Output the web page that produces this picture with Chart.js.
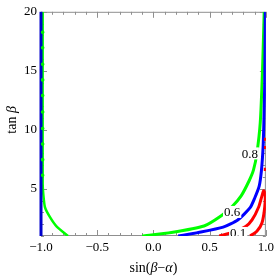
<!DOCTYPE html>
<html>
<head>
<meta charset="utf-8">
<script src="https://cdn.jsdelivr.net/npm/chart.js@4.4.1/dist/chart.umd.min.js"></script>
<style>
  html, body { margin: 0; padding: 0; background: #fff; }
</style>
</head>
<body>
<canvas id="chartKontur" width="278" height="278"></canvas>
<script>
// tick labels
const xTicks = [-1, -0.5, 0, 0.5, 1];
const yTicks = [5, 10, 15, 20];

// blue contour (0.6)
const blueLeftX = [-1, -1];
const blueLeftY = [1, 20];
const blueRightX = [0.22, 0.4, 0.62, 0.75, 0.86, 0.9, 0.94, 0.96, 0.975, 0.982, 0.99, 0.995];
const blueRightY = [1, 1.3, 1.75, 2.36, 3.4, 4.2, 5.2, 6.5, 8.5, 10.6, 14, 20];

// green contour (0.8)
const greenLeftX = [-0.985, -0.985, -0.98, -0.965, -0.92, -0.86, -0.76];
const greenLeftY = [20, 5.4, 4.6, 3.45, 2.6, 1.8, 1];
const greenDotX = [-0.985, -0.985, -0.985, -0.985, -0.985, -0.985, -0.985, -0.985, -0.985, -0.985];
const greenDotY = [18.27, 16.95, 15.55, 14.23, 12.91, 11.51, 10.11, 8.79, 7.47, 6.15];
const greenRightX = [-0.1, 0.16, 0.45, 0.6, 0.7, 0.78, 0.85, 0.89, 0.92, 0.95, 0.97, 0.985];
const greenRightY = [1, 1.3, 1.85, 2.7, 3.5, 4.4, 5.66, 6.6, 8, 10.6, 15, 20];

// red contour (0.1)
const redX = [0.585, 0.7, 0.82, 0.877, 0.936, 0.965, 0.98, 0.993, 0.99, 0.965, 0.92, 0.86];
const redY = [1, 1.3, 1.8, 2.36, 3.46, 4.4, 4.84, 4.6, 3.46, 2.1, 1.4, 1];
const redBitsX = [0.997, 0.997, 0.995];
const redBitsY = [9.2, 8.5, 6.65];

// contour labels
const labelText = ["0.8", "0.6", "0.1"];
const labelX = [0.857, 0.7, 0.754];
const labelY = [8, 3.04, 1.26];

const serif = '"Liberation Serif", "Times New Roman", serif';

function pts(xs, ys) {
    return xs.map((x, i) => ({ x: x, y: ys[i] }));
}

function fmt(v) {
    return (v < 0 ? "\u2212" : "") + Math.abs(v).toFixed(1);
}

function drawParts(ctx, parts, x, y) {
    // teks campuran tegak/miring, center di (x, y)
    let total = 0;
    parts.forEach(p => {
        ctx.font = (p[1] ? "italic " : "") + "14px " + serif;
        total += ctx.measureText(p[0]).width;
    });
    let cx = x - total / 2;
    ctx.textAlign = "left";
    ctx.textBaseline = "middle";
    parts.forEach(p => {
        ctx.font = (p[1] ? "italic " : "") + "14px " + serif;
        ctx.fillText(p[0], cx, y);
        cx += ctx.measureText(p[0]).width;
    });
}

const framePlugin = {
    id: "frame",
    beforeDatasetsDraw(chart) {
        const { ctx, chartArea: a, scales: { x, y } } = chart;
        ctx.save();

        // bingkai
        ctx.strokeStyle = "#8f8f8f";
        ctx.lineWidth = 1;
        ctx.strokeRect(a.left + 0.5, a.top + 0.5, a.right - a.left - 1, a.bottom - a.top - 1);

        // tick ke dalam
        ctx.beginPath();
        for (let k = -10; k <= 10; k++) {
            const v = k / 10;
            const len = xTicks.some(t => Math.abs(t - v) < 1e-9) ? 6 : 3;
            const px = Math.round(x.getPixelForValue(v)) + 0.5;
            ctx.moveTo(px, a.bottom);
            ctx.lineTo(px, a.bottom - len);
            ctx.moveTo(px, a.top);
            ctx.lineTo(px, a.top + len);
        }
        for (let v = 1; v <= 20; v++) {
            const len = yTicks.includes(v) ? 6 : 3;
            const py = Math.round(y.getPixelForValue(v)) + 0.5;
            ctx.moveTo(a.left, py);
            ctx.lineTo(a.left + len, py);
            ctx.moveTo(a.right, py);
            ctx.lineTo(a.right - len, py);
        }
        ctx.stroke();

        // judul sumbu
        ctx.fillStyle = "#000";
        drawParts(ctx, [["sin(", false], ["\u03b2", true], ["\u2212", false], ["\u03b1", true], [")", false]],
            (a.left + a.right) / 2, 268);
        ctx.save();
        ctx.translate(12, (a.top + a.bottom) / 2 - 4);
        ctx.rotate(-Math.PI / 2);
        drawParts(ctx, [["tan ", false], ["\u03b2", true]], 0, 0);
        ctx.restore();

        ctx.restore();
    },
    afterDatasetsDraw(chart) {
        const { ctx, chartArea: a, scales: { x, y } } = chart;
        // label kontur dengan latar putih
        ctx.save();
        ctx.beginPath();
        ctx.rect(a.left, a.top, a.right - a.left, a.bottom - a.top);
        ctx.clip();
        ctx.font = "13px " + serif;
        ctx.textAlign = "center";
        ctx.textBaseline = "middle";
        labelText.forEach((t, i) => {
            const px = x.getPixelForValue(labelX[i]);
            const py = y.getPixelForValue(labelY[i]);
            const w = ctx.measureText(t).width;
            ctx.fillStyle = "#fff";
            ctx.fillRect(px - w / 2 - 1, py - 6, w + 2, 12);
            ctx.fillStyle = "#000";
            ctx.fillText(t, px, py + 1);
        });
        ctx.restore();
    }
};

function line(xs, ys, color, width, order) {
    return {
        data: pts(xs, ys),
        showLine: true,
        borderColor: color,
        backgroundColor: color,
        borderWidth: width,
        pointRadius: 0,
        tension: 0.2,
        fill: false,
        order: order
    };
}

const chartCanvas = document.getElementById("chartKontur");

const blueLeft = line(blueLeftX, blueLeftY, "#0000cc", 3, 5);
blueLeft.clip = false;

new Chart(chartCanvas, {
    type: "scatter",
    data: {
        datasets: [
            line(greenLeftX, greenLeftY, "#00ff00", 2.5, 6),
            blueLeft,
            {
                data: pts(greenDotX, greenDotY),
                showLine: false,
                pointRadius: 1.8,
                pointBackgroundColor: "#00ee00",
                pointBorderWidth: 0,
                order: 0
            },
            line(greenRightX, greenRightY, "#00ff00", 3, 4),
            line(blueRightX, blueRightY, "#0000ff", 3, 3),
            line(redX, redY, "#ff0000", 3, 2),
            {
                data: pts(redBitsX, redBitsY),
                showLine: false,
                pointStyle: "rect",
                pointRadius: 2.2,
                pointBackgroundColor: "#ff0000",
                pointBorderWidth: 0,
                order: 1
            }
        ]
    },
    options: {
        responsive: false,
        animation: false,
        devicePixelRatio: 1,
        layout: { padding: { top: 6, right: 9, left: 0, bottom: 0 } },
        plugins: {
            legend: { display: false },
            tooltip: { enabled: false }
        },
        scales: {
            x: {
                type: "linear",
                min: -1,
                max: 1,
                afterFit: s => { s.height = 42; },
                afterBuildTicks: s => { s.ticks = xTicks.map(v => ({ value: v })); },
                ticks: {
                    padding: 4,
                    color: "#000",
                    font: { family: serif, size: 13 },
                    maxRotation: 0,
                    autoSkip: false,
                    callback: v => fmt(v)
                },
                grid: { display: false, drawTicks: false },
                border: { display: false }
            },
            y: {
                type: "linear",
                min: 1,
                max: 20,
                afterFit: s => { s.width = 41; },
                afterBuildTicks: s => { s.ticks = yTicks.map(v => ({ value: v })); },
                ticks: {
                    padding: 4,
                    color: "#000",
                    font: { family: serif, size: 13 },
                    autoSkip: false,
                    callback: v => String(v)
                },
                grid: { display: false, drawTicks: false },
                border: { display: false }
            }
        }
    },
    plugins: [framePlugin]
});
</script>
</body>
</html>
